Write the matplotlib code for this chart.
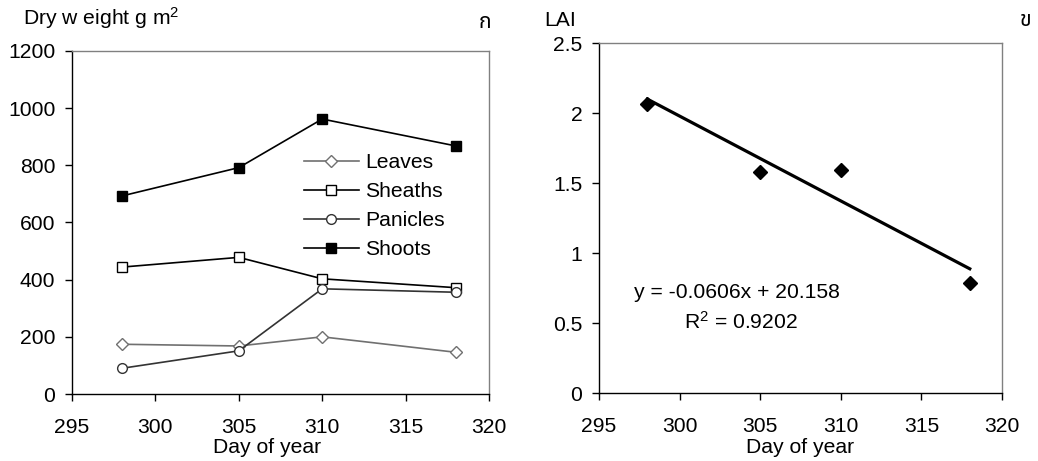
import matplotlib
matplotlib.use("Agg")
import matplotlib.pyplot as plt
from matplotlib import font_manager as fm
from matplotlib.ft2font import FT2Font

# ---------------- data ----------------
days = [298, 305, 310, 318]
leaves = [174, 168, 200, 146]
sheaths = [444, 478, 403, 372]
panicles = [90, 151, 368, 356]
shoots = [693, 792, 962, 868]
lai = [2.064, 1.576, 1.593, 0.784]
slope = -0.0606
intercept = 20.158
r2 = 0.9202
xticks = [295, 300, 305, 310, 315, 320]
yticks_left = [0, 200, 400, 600, 800, 1000, 1200]
yticks_right = [0, 0.5, 1, 1.5, 2, 2.5]


def find_font(ch):
    prefs = ["Noto Sans Thai", "Noto Sans Thai UI", "Loma", "Garuda", "Norasi"]
    found = []
    for f in fm.fontManager.ttflist:
        try:
            if ord(ch) in FT2Font(f.fname).get_charmap():
                found.append(f.name)
        except Exception:
            pass
    for p in prefs:
        if p in found:
            return p
    return found[0] if found else "DejaVu Sans"


thai_font = find_font("\u0e01")

plt.rcParams["font.family"] = ["Liberation Sans", "DejaVu Sans"]
plt.rcParams["mathtext.fontset"] = "custom"
plt.rcParams["mathtext.rm"] = "Liberation Sans"
plt.rcParams["mathtext.it"] = "Liberation Sans"

FS = 15.2
fig = plt.figure(figsize=(10.38, 4.61), dpi=100)
W, H = 1038, 461

axL = fig.add_axes([72 / W, (H - 394) / H, 417 / W, 343 / H])
axR = fig.add_axes([599 / W, (H - 393) / H, 403 / W, 350 / H])

for ax in (axL, axR):
    ax.spines["top"].set_color("#808080")
    ax.spines["right"].set_color("#808080")
    ax.spines["left"].set_color("black")
    ax.spines["bottom"].set_color("black")
    for s in ax.spines.values():
        s.set_linewidth(1.0)
    ax.set_xlim(295, 320)
    ax.set_xticks(xticks)
    ax.tick_params(axis="x", direction="out", length=5, width=1, pad=12, labelsize=FS)
    ax.tick_params(axis="y", direction="out", length=5, width=1, pad=7, labelsize=FS)

# ---------------- left panel ----------------
axL.set_ylim(0, 1200)
axL.set_yticks(yticks_left)
axL.plot(days, leaves, color="#707070", lw=1.2, marker="D", ms=6.5,
         mfc="white", mec="#707070", mew=1.0, label="Leaves")
axL.plot(days, sheaths, color="black", lw=1.2, marker="s", ms=7,
         mfc="white", mec="black", mew=1.0, label="Sheaths")
axL.plot(days, panicles, color="#333333", lw=1.2, marker="o", ms=7,
         mfc="white", mec="#333333", mew=1.0, label="Panicles")
axL.plot(days, shoots, color="black", lw=1.2, marker="s", ms=7,
         mfc="black", mec="black", label="Shoots")
axL.legend(loc="upper left", bbox_to_anchor=((304 - 72) / 417, (394 - 153) / 343),
           frameon=False, fontsize=FS, handlelength=2.6, handletextpad=0.3,
           labelspacing=0.48, borderpad=0, borderaxespad=0)

# ---------------- right panel ----------------
axR.set_ylim(0, 2.5)
axR.set_yticks(yticks_right)
axR.set_yticklabels(["0", "0.5", "1", "1.5", "2", "2.5"])
axR.plot(days, lai, linestyle="none", marker="D", ms=7.5, color="black")
fit_x = [days[0], days[-1]]
fit_y = [slope * x + intercept for x in fit_x]
axR.plot(fit_x, fit_y, color="black", lw=2.3)
axR.text(297.2, 0.72, "y = -0.0606x + 20.158", fontsize=FS, va="center", ha="left")
axR.text(300.25, 0.51, "R$^2$ = 0.9202", fontsize=FS, va="center", ha="left")

# ---------------- labels ----------------
fig.text(23 / W, 1 - 18 / H, "Dry w eight g m$^2$", fontsize=FS, ha="left", va="center")
fig.text(485 / W, 1 - 22 / H, "\u0e01", fontsize=FS, ha="center", va="center",
         family=[thai_font, "DejaVu Sans"])
fig.text(544 / W, 1 - 20 / H, "LAI", fontsize=FS, ha="left", va="center")
fig.text(1026 / W, 1 - 20 / H, "\u0e02", fontsize=FS, ha="center", va="center",
         family=[thai_font, "DejaVu Sans"])
fig.text(267 / W, 1 - 447 / H, "Day of year", fontsize=FS, ha="center", va="center")
fig.text(800 / W, 1 - 447 / H, "Day of year", fontsize=FS, ha="center", va="center")

fig.savefig("out.png", dpi=100)
